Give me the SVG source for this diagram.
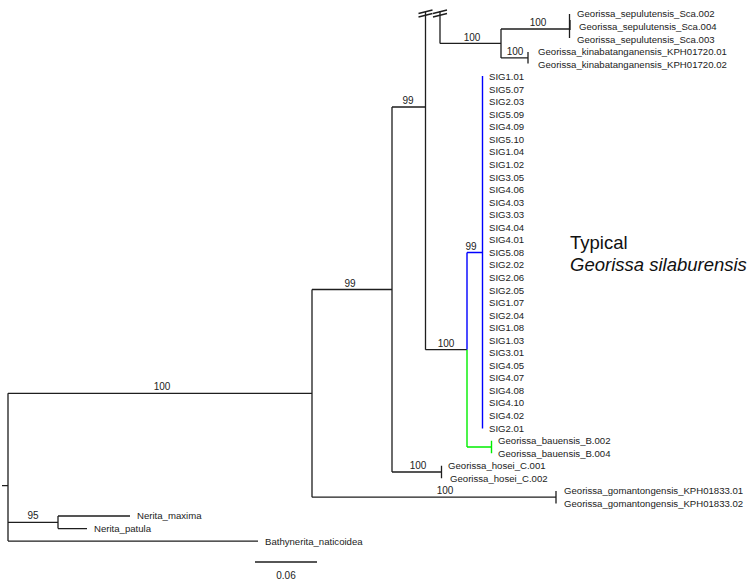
<svg xmlns="http://www.w3.org/2000/svg" width="748" height="582" viewBox="0 0 748 582">
<style>
.br{stroke:#1e1e1e;stroke-width:1.3;fill:none}
.bl{stroke:#0000ff;stroke-width:1.4;fill:none}
.gr{stroke:#00ee00;stroke-width:1.4;fill:none}
.tip{font-family:"Liberation Sans",Arial,sans-serif;font-size:9.6px;fill:#222}
.sup{font-family:"Liberation Sans",Arial,sans-serif;font-size:10px;fill:#222;text-anchor:middle}
.big{font-family:"Liberation Sans",Arial,sans-serif;font-size:18.5px;fill:#111}
</style>
<rect width="748" height="582" fill="#ffffff"/>
<g id="connectors">
<path class="br" d="M2,485.6H8M8,393.3V541.1M8,393.3H312M8,522.3H58M8,541.1H258"/>
<path class="br" d="M58,516V528.55M58,516H130M58,528.55H87"/>
<path class="br" d="M312,289.5V497.2M312,289.5H392M312,497.2H556M556,490.9V503.45"/>
<path class="br" d="M392,107V472M392,107H425.5M392,472H441.5M441.5,465.8V478.35"/>
<path class="br" d="M425.5,12V349.7M425.5,349.7H467"/>
<path class="br" d="M418.5,13.5L432.5,10M418.5,17L432.5,13.5M433,13.5L447,10M433,17L447,13.5"/>
<path class="br" d="M440,11V43.45M440,43.45H501"/>
<path class="br" d="M501,29V57.9M501,29H569.5M501,57.9H528M528,52V63.5"/>
<path class="br" d="M569.5,14V38"/>
<path class="br" stroke-width="2.2" d="M570,20V30"/>
<path class="bl" d="M467,252.45V349.7M467,252.45H482"/>
<path class="bl" stroke-width="3" d="M482.5,76V428.5"/>
<path class="gr" d="M467,349.7V447M467,447H491.5M491.5,440.7V453.25"/>
<path class="br" d="M255,562H317"/>
</g>
<g id="supports">
<text class="sup" x="538" y="26">100</text>
<text class="sup" x="472" y="40.5">100</text>
<text class="sup" x="515" y="55">100</text>
<text class="sup" x="408" y="104">99</text>
<text class="sup" x="350" y="286.5">99</text>
<text class="sup" x="446" y="346.5">100</text>
<text class="sup" x="471" y="249.5">99</text>
<text class="sup" x="418" y="469">100</text>
<text class="sup" x="445" y="494">100</text>
<text class="sup" x="162" y="390">100</text>
<text class="sup" x="33" y="519.3">95</text>
<text class="sup" x="286" y="578.5">0.06</text>
</g>
<g id="n-sepulutensis">
<text class="tip" x="577" y="17.4">Georissa_sepulutensis_Sca.002</text>
<text class="tip" x="579" y="29.95">Georissa_sepulutensis_Sca.004</text>
<text class="tip" x="577" y="42.5">Georissa_sepulutensis_Sca.003</text>
</g>
<g id="n-kinabatanganensis">
<text class="tip" x="538" y="55.05">Georissa_kinabatanganensis_KPH01720.01</text>
<text class="tip" x="538" y="67.6">Georissa_kinabatanganensis_KPH01720.02</text>
</g>
<g id="n-silaburensis">
<text class="tip" x="489" y="80.15">SIG1.01</text>
<text class="tip" x="489" y="92.7">SIG5.07</text>
<text class="tip" x="489" y="105.25">SIG2.03</text>
<text class="tip" x="489" y="117.8">SIG5.09</text>
<text class="tip" x="489" y="130.35">SIG4.09</text>
<text class="tip" x="489" y="142.9">SIG5.10</text>
<text class="tip" x="489" y="155.45">SIG1.04</text>
<text class="tip" x="489" y="168">SIG1.02</text>
<text class="tip" x="489" y="180.55">SIG3.05</text>
<text class="tip" x="489" y="193.1">SIG4.06</text>
<text class="tip" x="489" y="205.65">SIG4.03</text>
<text class="tip" x="489" y="218.2">SIG3.03</text>
<text class="tip" x="489" y="230.75">SIG4.04</text>
<text class="tip" x="489" y="243.3">SIG4.01</text>
<text class="tip" x="489" y="255.85">SIG5.08</text>
<text class="tip" x="489" y="268.4">SIG2.02</text>
<text class="tip" x="489" y="280.95">SIG2.06</text>
<text class="tip" x="489" y="293.5">SIG2.05</text>
<text class="tip" x="489" y="306.05">SIG1.07</text>
<text class="tip" x="489" y="318.6">SIG2.04</text>
<text class="tip" x="489" y="331.15">SIG1.08</text>
<text class="tip" x="489" y="343.7">SIG1.03</text>
<text class="tip" x="489" y="356.25">SIG3.01</text>
<text class="tip" x="489" y="368.8">SIG4.05</text>
<text class="tip" x="489" y="381.35">SIG4.07</text>
<text class="tip" x="489" y="393.9">SIG4.08</text>
<text class="tip" x="489" y="406.45">SIG4.10</text>
<text class="tip" x="489" y="419">SIG4.02</text>
<text class="tip" x="489" y="431.55">SIG2.01</text>
</g>
<g id="n-bauensis">
<text class="tip" x="498" y="444.1">Georissa_bauensis_B.002</text>
<text class="tip" x="498" y="456.65">Georissa_bauensis_B.004</text>
</g>
<g id="n-hosei">
<text class="tip" x="448" y="469.2">Georissa_hosei_C.001</text>
<text class="tip" x="450" y="481.75">Georissa_hosei_C.002</text>
</g>
<g id="n-gomantongensis">
<text class="tip" x="564" y="494.3">Georissa_gomantongensis_KPH01833.01</text>
<text class="tip" x="564" y="506.85">Georissa_gomantongensis_KPH01833.02</text>
</g>
<g id="n-nerita">
<text class="tip" x="137" y="519.4">Nerita_maxima</text>
<text class="tip" x="94" y="531.95">Nerita_patula</text>
</g>
<g id="n-bathynerita">
<text class="tip" x="265" y="544.5">Bathynerita_naticoidea</text>
</g>
<g id="n-caption">
<text class="big" x="570" y="248.5">Typical</text>
<text class="big" x="570" y="271" font-style="italic">Georissa silaburensis</text>
</g>
</svg>
